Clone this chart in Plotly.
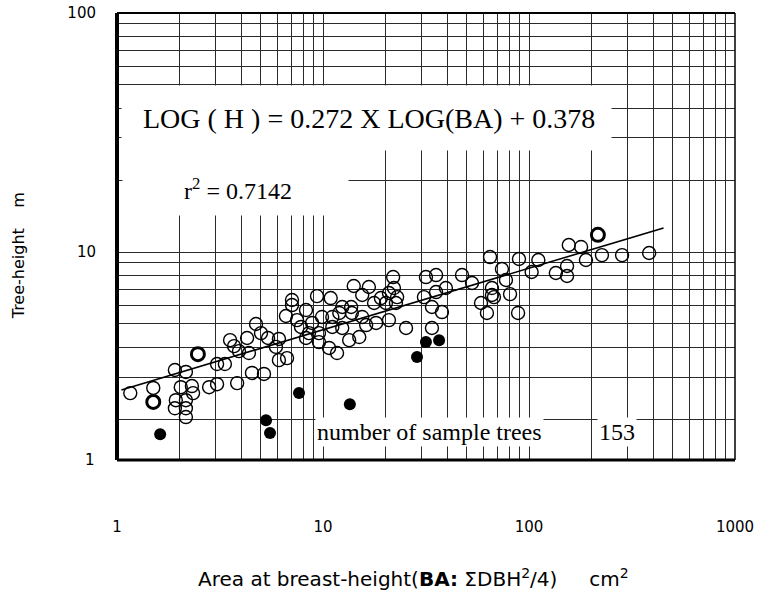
import plotly.graph_objects as go

# ---- data ----
open_ba = [1.16, 1.50, 1.91, 2.16, 2.04, 2.31, 2.34, 1.93, 2.16, 1.91, 2.16, 2.16,
           2.80, 3.06, 3.06, 3.34, 3.83, 4.52, 5.17, 3.54, 3.70, 3.91, 4.37, 4.28,
           4.73, 5.00, 5.41, 6.11, 5.91, 6.11, 6.69, 6.61, 7.07, 7.07, 7.48, 7.82,
           8.27, 64.7, 21.9, 31.6, 35.4, 47.3, 52.9, 66.1, 14.1, 16.7, 15.5, 19.1,
           20.9, 22.1, 22.9, 9.35, 10.9, 12.4, 13.7, 17.7, 20.2, 22.6, 30.9, 35.4,
           39.5, 33.8, 37.8, 58.5, 62.5, 67.6, 8.27, 8.85, 9.89, 11.1, 12.0, 13.8,
           15.5, 18.1, 20.9, 25.3, 16.2, 12.4, 11.1, 9.56, 8.55, 9.56, 10.7, 11.7,
           15.0, 13.4, 33.8, 156, 179, 189, 226, 283, 383, 153, 135, 153, 111, 103,
           89.4, 73.9, 77.3, 66.1, 80.9, 88.5]
open_h = [2.57, 2.70, 3.21, 3.15, 2.72, 2.75, 2.57, 2.40, 2.40, 2.22, 2.22, 2.04,
          2.72, 2.80, 3.40, 3.40, 2.83, 3.12, 3.09, 4.28, 4.04, 3.85, 3.78, 4.37,
          5.00, 4.58, 4.37, 4.33, 4.01, 3.53, 3.60, 5.40, 6.00, 6.30, 5.19, 4.86,
          4.37, 9.53, 7.86, 7.86, 8.01, 8.01, 7.42, 7.07, 7.21, 7.14, 6.61, 6.42,
          6.74, 7.07, 6.48, 6.54, 6.42, 5.89, 5.89, 6.12, 6.12, 6.12, 6.48, 6.80,
          7.07, 5.89, 5.61, 6.12, 5.56, 6.48, 5.72, 5.05, 5.35, 5.35, 5.56, 5.56,
          5.35, 5.05, 5.19, 4.81, 4.95, 4.81, 4.86, 4.58, 4.58, 4.20, 3.97, 3.78,
          4.41, 4.28, 4.81, 10.7, 10.5, 9.26, 9.71, 9.71, 9.91, 8.74, 8.17, 7.94,
          9.26, 8.25, 9.35, 8.49, 7.64, 6.61, 6.67, 5.56]

bold_ba = [1.50, 2.47, 216]
bold_h = [2.36, 3.74, 11.8]

filled_ba = [1.62, 5.29, 5.53, 7.65, 13.5, 28.6, 31.6, 36.6]
filled_h = [1.73, 1.98, 1.75, 2.57, 2.31, 3.64, 4.20, 4.28]

fit_ba = [1.05, 450]
fit_h = [2.65, 12.6]

x_ticks = [1, 10, 100, 1000]
y_ticks = [10, 100]

fig = go.Figure()
fig.add_trace(go.Scatter(x=fit_ba, y=fit_h, mode="lines",
                         line=dict(color="black", width=1.6), hoverinfo="skip"))
fig.add_trace(go.Scatter(x=open_ba, y=open_h, mode="markers",
                         marker=dict(symbol="circle-open", size=13, color="black",
                                     line=dict(width=1.4))))
fig.add_trace(go.Scatter(x=bold_ba, y=bold_h, mode="markers",
                         marker=dict(symbol="circle-open", size=13, color="black",
                                     line=dict(width=3))))
fig.add_trace(go.Scatter(x=filled_ba, y=filled_h, mode="markers",
                         marker=dict(symbol="circle", size=12, color="black")))

grid = "#2a2a2a"
fig.update_xaxes(type="log", range=[0, 3], tickvals=x_ticks,
                 ticktext=[str(v) for v in x_ticks],
                 showgrid=True, gridcolor=grid, gridwidth=1,
                 minor=dict(dtick="D1", showgrid=True, gridcolor=grid, gridwidth=1),
                 showline=False, zeroline=False, ticks="", automargin=False,
                 ticklabelstandoff=56,
                 tickfont=dict(family="DejaVu Sans", size=15, color="black"))
fig.update_yaxes(type="log", range=[0.13, 2], tickvals=y_ticks,
                 ticktext=[str(v) for v in y_ticks],
                 showgrid=True, gridcolor=grid, gridwidth=1,
                 minor=dict(dtick="D1", showgrid=True, gridcolor=grid, gridwidth=1),
                 showline=False, zeroline=False, ticks="", automargin=False,
                 ticklabelstandoff=20,
                 tickfont=dict(family="DejaVu Sans", size=15, color="black"))

# frame
fig.add_shape(type="line", xref="paper", yref="paper", x0=0, x1=0, y0=0, y1=1,
              line=dict(color="black", width=4))
fig.add_shape(type="line", xref="paper", yref="paper", x0=0, x1=1, y0=0, y1=0,
              line=dict(color="black", width=3))
fig.add_shape(type="line", xref="paper", yref="paper", x0=0, x1=1, y0=1, y1=1,
              line=dict(color="black", width=2))
fig.add_shape(type="line", xref="paper", yref="paper", x0=1, x1=1, y0=0, y1=1,
              line=dict(color="black", width=1.5))

serif = "Liberation Serif"
ann = [
    # unruled paper areas behind the texts
    dict(text=" ", x=0.4045, y=0.764, width=487, height=62, bgcolor="white",
         font=dict(size=10)),
    dict(text=" ", x=0.1915, y=0.622, width=223, height=64, bgcolor="white",
         font=dict(size=10)),
    dict(text="LOG ( H ) = 0.272 X LOG(BA) + 0.378", x=0.408, y=0.765,
         font=dict(family=serif, size=28)),
    dict(text="r<sup>2</sup> = 0.7142", x=0.196, y=0.606,
         font=dict(family=serif, size=24)),
    dict(text="number of sample trees", x=0.320, y=0.062, xanchor="left",
         font=dict(family=serif, size=24), bgcolor="white"),
    dict(text="153", x=0.777, y=0.062, xanchor="left",
         font=dict(family=serif, size=24), bgcolor="white"),
    dict(text="1", x=0, y=0, xanchor="right", xshift=-20,
         font=dict(family="DejaVu Sans", size=15)),
    dict(text="Area at breast-height(<b>BA:</b> ΣDBH<sup>2</sup>/4)     cm<sup>2</sup>",
         x=0.479, y=-0.264, font=dict(family="DejaVu Sans", size=20)),
    dict(text="Tree-height    m", x=-0.16, y=0.456, textangle=-90,
         font=dict(family="DejaVu Sans", size=16)),
]
for a in ann:
    a.setdefault("xanchor", "center")
    a["xref"] = "paper"
    a["yref"] = "paper"
    a["yanchor"] = "middle"
    a["showarrow"] = False
    a["font"]["color"] = "black"
    fig.add_annotation(**a)

fig.update_layout(width=761, height=596, showlegend=False,
                  margin=dict(l=117, r=26, t=13, b=136, autoexpand=False),
                  plot_bgcolor="white", paper_bgcolor="white")

fig.write_html("out.html")
